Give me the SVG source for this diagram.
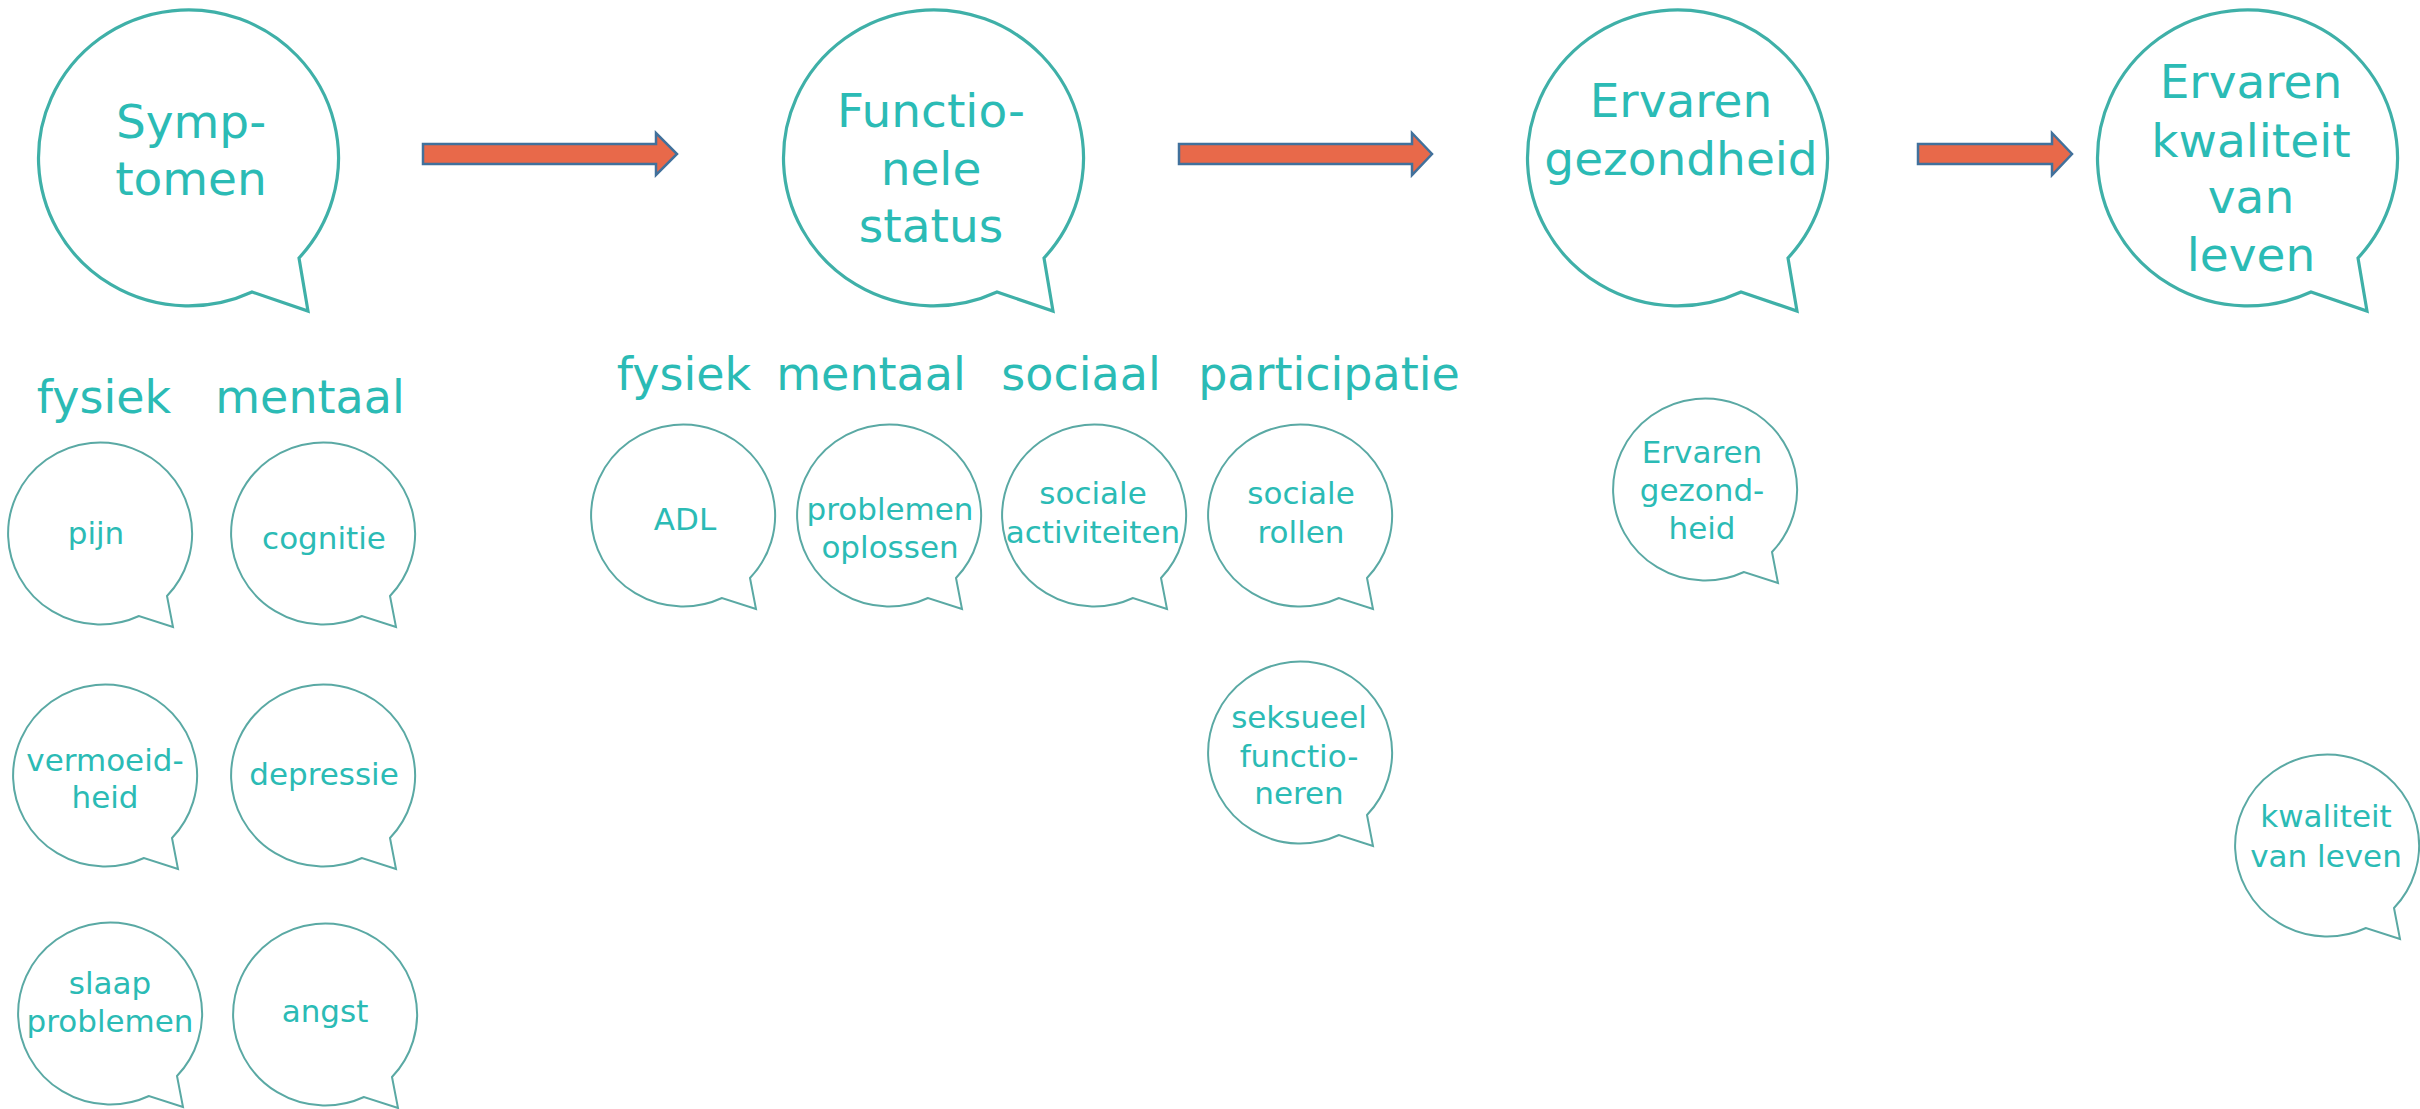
<svg xmlns="http://www.w3.org/2000/svg" xmlns:xlink="http://www.w3.org/1999/xlink" width="2420" height="1109" viewBox="0 0 2420 1109">
<style>
.bg{fill:#ffffff}
.bigb{fill:#ffffff;stroke:#3fb0a8;stroke-width:3.2;stroke-linejoin:miter}
.smallb{fill:#ffffff;stroke:#5aa9a4;stroke-width:2;stroke-linejoin:miter}
text{font-family:"DejaVu Sans","Liberation Sans",sans-serif;fill:#2bbbb5;text-anchor:middle}
.big{font-size:47px}
.hdr{font-size:46px}
.sm{font-size:31px}
.arrow{fill:#e8694a;stroke:#41719c;stroke-width:2.5;stroke-linejoin:miter}
</style>
<defs>
<path id="bigBubble" d="M108,101 L117,154 L61,135 A150 148 0 1 1 108,101 Z"/>
<path id="smallBubble" d="M67,63 L73,94 L39,83 A92 91 0 1 1 67,63 Z"/>
</defs>
<rect class="bg" x="0" y="0" width="2420" height="1109"/>

<g id="connectors">
<path class="arrow" d="M423,144 L656,144 L656,133 L677,154 L656,175 L656,164 L423,164 Z"/>
<path class="arrow" d="M1179,144 L1412,144 L1412,133 L1432,154 L1412,175 L1412,164 L1179,164 Z"/>
<path class="arrow" d="M1918,144 L2052,144 L2052,133 L2072,154 L2052,175 L2052,164 L1918,164 Z"/>
</g>

<g id="symptomen">
<use href="#bigBubble" class="bigb" transform="translate(191,157)"/>
<text class="big" x="191" y="138">Symp-</text>
<text class="big" x="191" y="195">tomen</text>
</g>
<g id="functionele-status">
<use href="#bigBubble" class="bigb" transform="translate(936,157)"/>
<text class="big" x="931" y="127">Functio-</text>
<text class="big" x="931" y="185">nele</text>
<text class="big" x="931" y="242">status</text>
</g>
<g id="ervaren-gezondheid">
<use href="#bigBubble" class="bigb" transform="translate(1680,157)"/>
<text class="big" x="1681" y="117">Ervaren</text>
<text class="big" x="1681" y="175">gezondheid</text>
</g>
<g id="ervaren-kwaliteit">
<use href="#bigBubble" class="bigb" transform="translate(2250,157)"/>
<text class="big" x="2251" y="98">Ervaren</text>
<text class="big" x="2251" y="157">kwaliteit</text>
<text class="big" x="2251" y="213">van</text>
<text class="big" x="2251" y="271">leven</text>
</g>

<g id="labels">
<text class="hdr" x="104" y="413">fysiek</text>
<text class="hdr" x="310" y="413">mentaal</text>
<text class="hdr" x="684" y="390">fysiek</text>
<text class="hdr" x="871" y="390">mentaal</text>
<text class="hdr" x="1081" y="390">sociaal</text>
<text class="hdr" x="1329" y="390">participatie</text>
</g>

<g id="pijn">
<use href="#smallBubble" class="smallb" transform="translate(100,533)"/>
<text class="sm" x="96" y="544">pijn</text>
</g>
<g id="cognitie">
<use href="#smallBubble" class="smallb" transform="translate(323,533)"/>
<text class="sm" x="324" y="549">cognitie</text>
</g>
<g id="vermoeidheid">
<use href="#smallBubble" class="smallb" transform="translate(105,775)"/>
<text class="sm" x="105" y="771">vermoeid-</text>
<text class="sm" x="105" y="808">heid</text>
</g>
<g id="depressie">
<use href="#smallBubble" class="smallb" transform="translate(323,775)"/>
<text class="sm" x="324" y="785">depressie</text>
</g>
<g id="slaapproblemen">
<use href="#smallBubble" class="smallb" transform="translate(110,1013)"/>
<text class="sm" x="110" y="994">slaap</text>
<text class="sm" x="110" y="1032">problemen</text>
</g>
<g id="angst">
<use href="#smallBubble" class="smallb" transform="translate(325,1014)"/>
<text class="sm" x="325" y="1022">angst</text>
</g>

<g id="adl">
<use href="#smallBubble" class="smallb" transform="translate(683,515)"/>
<text class="sm" x="685" y="530">ADL</text>
</g>
<g id="problemen-oplossen">
<use href="#smallBubble" class="smallb" transform="translate(889,515)"/>
<text class="sm" x="890" y="520">problemen</text>
<text class="sm" x="890" y="558">oplossen</text>
</g>
<g id="sociale-activiteiten">
<use href="#smallBubble" class="smallb" transform="translate(1094,515)"/>
<text class="sm" x="1093" y="504">sociale</text>
<text class="sm" x="1093" y="543">activiteiten</text>
</g>
<g id="sociale-rollen">
<use href="#smallBubble" class="smallb" transform="translate(1300,515)"/>
<text class="sm" x="1301" y="504">sociale</text>
<text class="sm" x="1301" y="543">rollen</text>
</g>
<g id="seksueel-functioneren">
<use href="#smallBubble" class="smallb" transform="translate(1300,752)"/>
<text class="sm" x="1299" y="728">seksueel</text>
<text class="sm" x="1299" y="767">functio-</text>
<text class="sm" x="1299" y="804">neren</text>
</g>

<g id="ervaren-gezondheid-small">
<use href="#smallBubble" class="smallb" transform="translate(1705,489)"/>
<text class="sm" x="1702" y="463">Ervaren</text>
<text class="sm" x="1702" y="501">gezond-</text>
<text class="sm" x="1702" y="539">heid</text>
</g>
<g id="kwaliteit-van-leven">
<use href="#smallBubble" class="smallb" transform="translate(2327,845)"/>
<text class="sm" x="2326" y="827">kwaliteit</text>
<text class="sm" x="2326" y="867">van leven</text>
</g>
</svg>
